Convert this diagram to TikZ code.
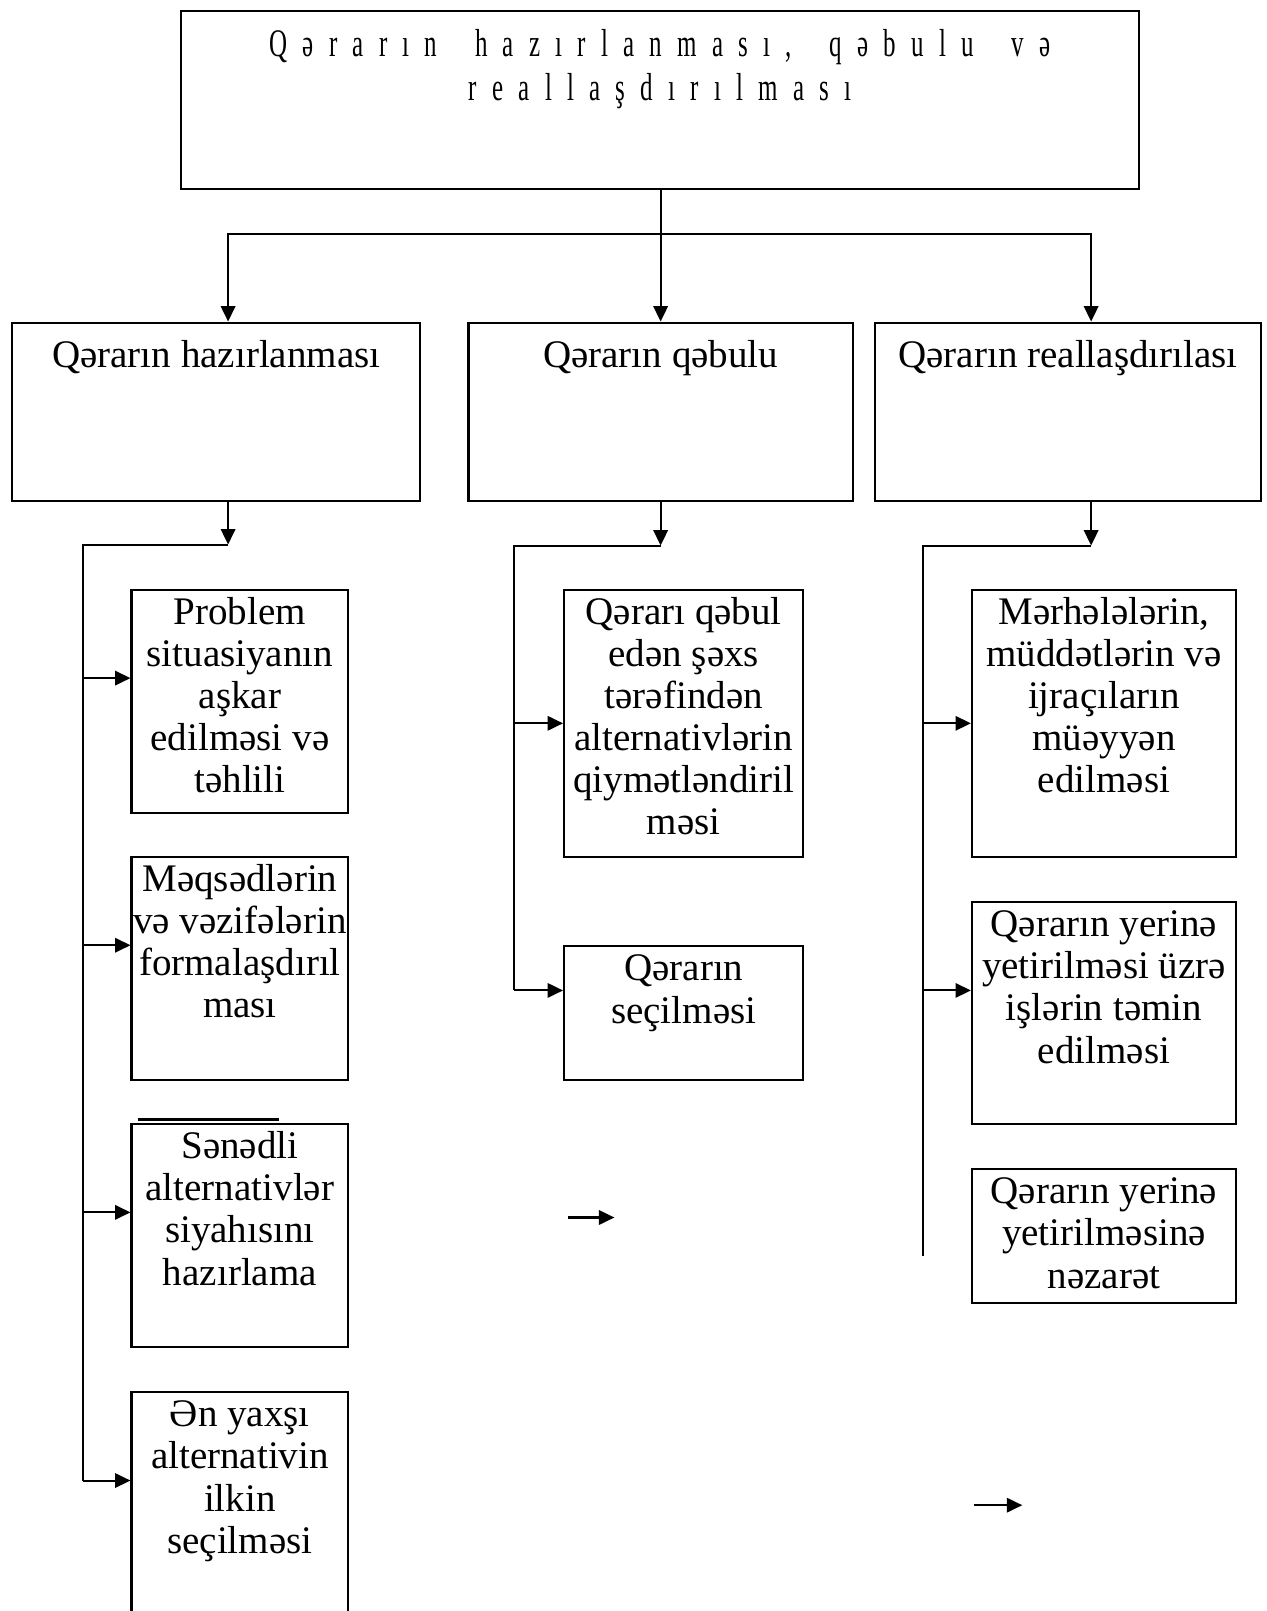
\documentclass[tikz,border=0pt]{standalone}
\usepackage{fontspec}
\setmainfont{Liberation Serif}
\newfontfamily\titlefont{Liberation Serif}[FakeStretch=0.64,LetterSpace=39]
\usetikzlibrary{arrows.meta,calc}

\newlength\unitpx
\setlength\unitpx{0.5pt}
\newcommand{\blktext}[4][2.5pt]{\parbox[c][#3\unitpx][t]{#2\unitpx}{\centering\vspace*{#1}\strut #4}}
\newcommand{\gap}{\hspace{8pt} }

\tikzset{
  blk/.style={draw, line width=1pt, inner sep=0pt, anchor=north west,
    font=\fontsize{19}{20.5}\selectfont},
  arr/.style={line width=1pt, -{Triangle[length=7.5pt,width=7pt]}},
  bus/.style={line width=1pt},
}

\begin{document}
\begin{tikzpicture}[x=0.5pt,y=-0.5pt]
\useasboundingbox (0,0) rectangle (1233,1568);
\clip (0,0) rectangle (1233,1568);

\node[blk] (top) at (175,10) {\parbox[c][173\unitpx][t]{933\unitpx}{\centering
  \titlefont\fontsize{19}{21.5}\selectfont\vspace*{7pt}\strut Qərarın\gap hazırlanması,\gap qəbulu\gap və\\reallaşdırılması}};

\node[blk] (prep) at (11,313) {\blktext[7.5pt]{397}{174}{Qərarın hazırlanması}};
\node[blk] (acc) at (455,313) {\blktext[7.5pt]{374}{174}{Qərarın qəbulu}};
\node[blk] (impl) at (851,313) {\blktext[7.5pt]{375}{174}{Qərarın reallaşdırılası}};

\node[blk] (p1) at (127,573) {\blktext{211}{217}{Problem\\situasiyanın\\aşkar\\edilməsi və\\təhlili}};
\node[blk] (p2) at (127,833) {\blktext{211}{217}{Məqsədlərin\\və vəzifələrin\\formalaşdırıl\\ması}};
\node[blk] (p3) at (127,1093) {\blktext{211}{217}{Sənədli\\alternativlər\\siyahısını\\hazırlama}};
\node[blk] (p4) at (127,1354) {\blktext{211}{280}{Ən yaxşı\\alternativin\\ilkin\\seçilməsi}};

\node[blk] (a1) at (548,573) {\blktext{233}{260}{Qərarı qəbul\\edən şəxs\\tərəfindən\\alternativlərin\\qiymətləndiril\\məsi}};
\node[blk] (a2) at (548,920) {\blktext{233}{130}{Qərarın\\seçilməsi}};

\node[blk] (r1) at (945,573) {\blktext{257}{260}{Mərhələlərin,\\müddətlərin və\\ijraçıların\\müəyyən\\edilməsi}};
\node[blk] (r2) at (945,877) {\blktext{257}{216}{Qərarın yerinə\\yetirilməsi üzrə\\işlərin təmin\\edilməsi}};
\node[blk] (r3) at (945,1137) {\blktext{257}{130}{Qərarın yerinə\\yetirilməsinə\\nəzarət}};

\coordinate (pin) at (222,0);
\coordinate (rin) at (1062,0);
\coordinate (hub) at ($(acc.north)+(0,-85)$);

\draw[bus] (top.south -| hub) -- (hub);
\draw[arr] (hub) -| (prep.north -| pin);
\draw[arr] (hub) -- (acc.north);
\draw[arr] (hub) -| (impl.north -| rin);

\draw[arr] (prep.south -| pin) -- ++(0,41) coordinate (pb);
\draw[bus] (pb) -| ($(p4.north west)+(-46,87)$);
\foreach \n in {p1,p2,p3,p4}
  \draw[arr] ($(\n.north west)+(-46,87)$) -- ($(\n.north west)+(0,87)$);
\draw[line width=1.5pt] ($(p3.north west)+(7,-3)$) -- ++(138,0);

\draw[arr] (acc.south) -- ++(0,42) coordinate (ab);
\draw[bus] (ab) -| ($(a2.west)+(-48,-22)$);
\draw[arr] ($(a1.west)+(-48,0)$) -- (a1.west);
\draw[arr] ($(a2.west)+(-48,-22)$) -- ($(a2.west)+(0,-22)$);
\coordinate (s1) at (553,1185);
\draw[arr] (s1) -- ++(45,0);

\draw[arr] (impl.south -| rin) -- ++(0,42) coordinate (rb);
\coordinate (rend) at (898,1222);
\draw[bus] (rb) -| (rend);
\draw[arr] ($(r1.west)+(-47,0)$) -- (r1.west);
\draw[arr] ($(r2.west)+(-47,-22)$) -- ($(r2.west)+(0,-22)$);
\coordinate (s2) at (948,1465);
\draw[arr] (s2) -- ++(47,0);
\end{tikzpicture}
\end{document}
